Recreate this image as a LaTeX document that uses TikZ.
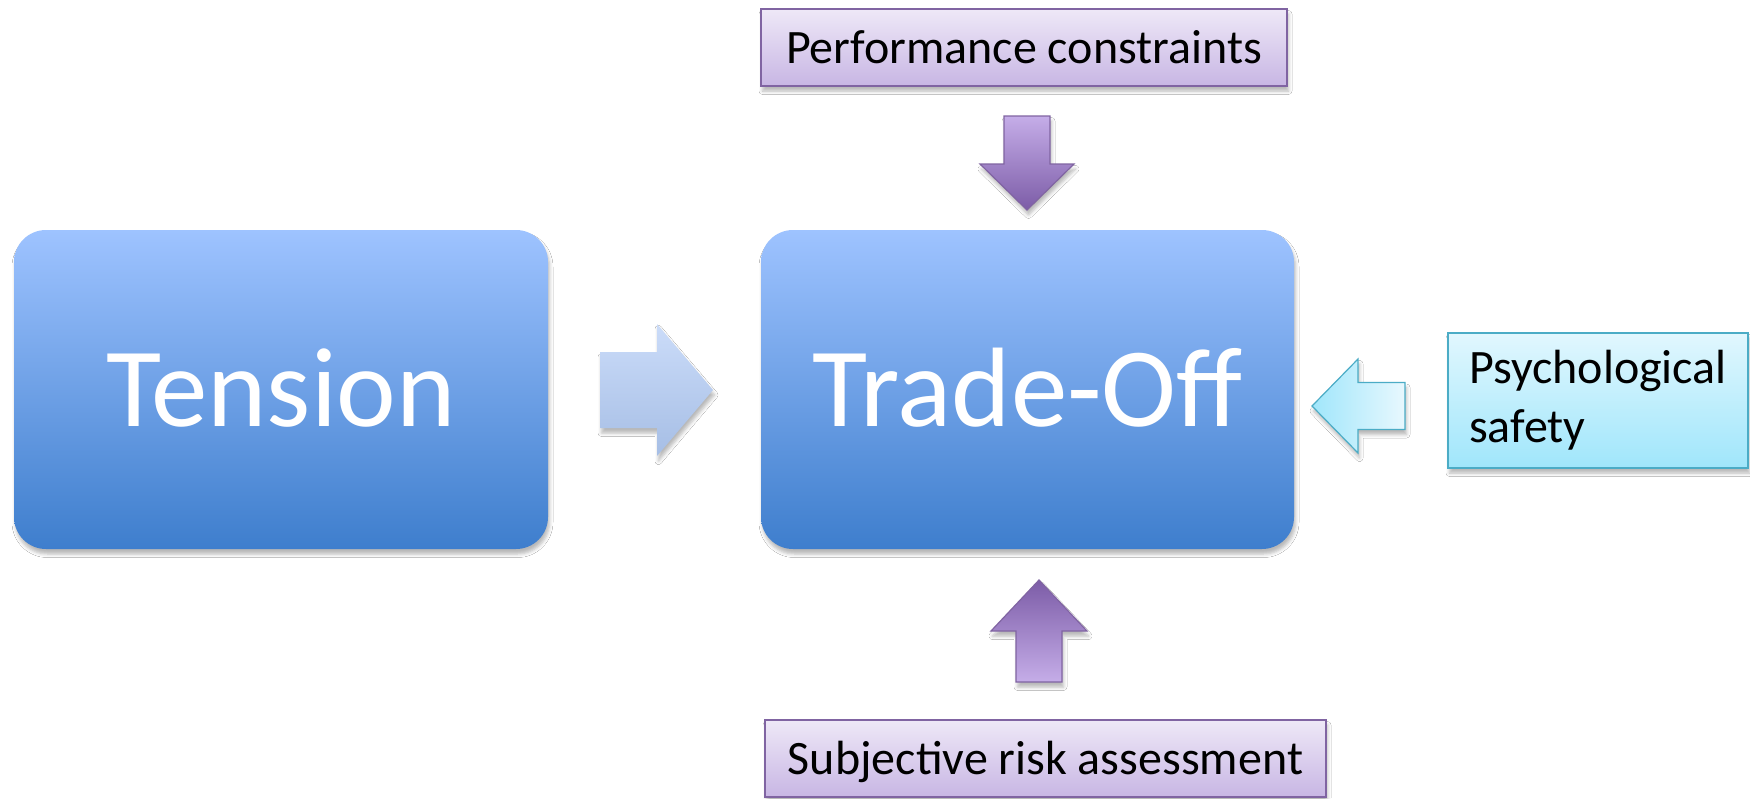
\documentclass[tikz,border=0pt]{standalone}
\usepackage{fontspec}
\setmainfont{Carlito}
\usetikzlibrary{calc,shadows.blur}

\definecolor{bigtop}{RGB}{158,195,255}
\definecolor{bigbot}{RGB}{62,126,205}
\definecolor{paletop}{RGB}{203,220,249}
\definecolor{palebot}{RGB}{166,190,229}
\definecolor{lavtop}{RGB}{238,232,247}
\definecolor{lavbot}{RGB}{200,182,228}
\definecolor{lavline}{RGB}{128,100,162}
\definecolor{plumlight}{RGB}{197,173,232}
\definecolor{plumdark}{RGB}{124,92,167}
\definecolor{aquatop}{RGB}{225,247,254}
\definecolor{aquabot}{RGB}{160,230,251}
\definecolor{aqualine}{RGB}{75,172,198}
\definecolor{aqualight}{RGB}{232,248,254}

% block arrow: #1 style, #2 tail, #3 tip, #4 half shaft width, #5 half head width, #6 head length
\newcommand\blockarrow[6]{%
  \coordinate (#2-#3-h) at ($(#3)!#6!(#2)$);
  \path[#1] ($(#2)!#4!90:(#3)$) -- ($(#2-#3-h)!#4!90:(#3)$) -- ($(#2-#3-h)!#5!90:(#3)$)
    -- (#3) -- ($(#2-#3-h)!#5!-90:(#3)$) -- ($(#2-#3-h)!#4!-90:(#3)$)
    -- ($(#2)!#4!-90:(#3)$) -- cycle;
}

\tikzset{
  softshadow/.style={blur shadow={shadow xshift=1.5pt, shadow yshift=-5pt,
      shadow blur radius=3.5pt, shadow opacity=28}},
  bigbox/.style={rounded corners=32pt, top color=bigtop, bottom color=bigbot,
      text=white, font=\fontsize{113}{136}\selectfont, minimum width=534pt,
      minimum height=319pt, inner sep=0pt, text height=73pt, text depth=0pt, softshadow},
  lavbox/.style={draw=lavline, line width=1.5pt, top color=lavtop, bottom color=lavbot,
      font=\fontsize{48}{59}\selectfont, minimum height=77pt, inner sep=0pt,
      text height=31pt, text depth=0pt, softshadow},
  aquabox/.style={draw=aqualine, line width=1.5pt, top color=aquatop, bottom color=aquabot,
      font=\fontsize{48}{59}\selectfont, align=left, minimum width=300pt,
      minimum height=135pt, inner sep=0pt, softshadow},
  palearrow/.style={top color=paletop, bottom color=palebot, softshadow},
  plumdown/.style={draw=lavline, line width=1.2pt, top color=plumlight, bottom color=plumdark, softshadow},
  plumup/.style={draw=lavline, line width=1.2pt, top color=plumdark, bottom color=plumlight, softshadow},
  aquaarrow/.style={draw=aqualine, line width=1.2pt, left color=aquabot, right color=aqualight, softshadow},
}

\begin{document}
\begin{tikzpicture}[x=1pt, y=-1pt]
  \fill[white] (0,0) rectangle (1750,798);
  \useasboundingbox (0,0) rectangle (1750,798);

  % main boxes
  \node[bigbox] (tension) at (281,389.5) {Tension};
  \node[bigbox, minimum width=533pt] (tradeoff) at (1027.5,389.5) {Trade-Off};

  % influencing factors
  \node[lavbox, minimum width=526pt] (perf) at (1024,47.5) {Performance constraints};
  \node[lavbox, minimum width=561pt] (subj) at (1045.5,758.5) {Subjective risk assessment};
  \node[aquabox] (psych) at (1598,400.5) {Psychological\\safety};

  % arrow end points
  \coordinate (tensionOut) at (600,390);
  \coordinate (tradeIn)    at (713,390);
  \coordinate (perfOut)    at (1027,116);
  \coordinate (perfIn)     at (1027,210);
  \coordinate (subjOut)    at (1039,682);
  \coordinate (subjIn)     at (1039,580);
  \coordinate (psychOut)   at (1405,406);
  \coordinate (psychIn)    at (1312,406);

  % block arrows
  \blockarrow{palearrow}{tensionOut}{tradeIn}{38pt}{66pt}{56pt}
  \blockarrow{plumdown}{perfOut}{perfIn}{23pt}{47pt}{46pt}
  \blockarrow{plumup}{subjOut}{subjIn}{23pt}{48pt}{51pt}
  \blockarrow{aquaarrow}{psychOut}{psychIn}{23.5pt}{47pt}{46pt}
\end{tikzpicture}
\end{document}
